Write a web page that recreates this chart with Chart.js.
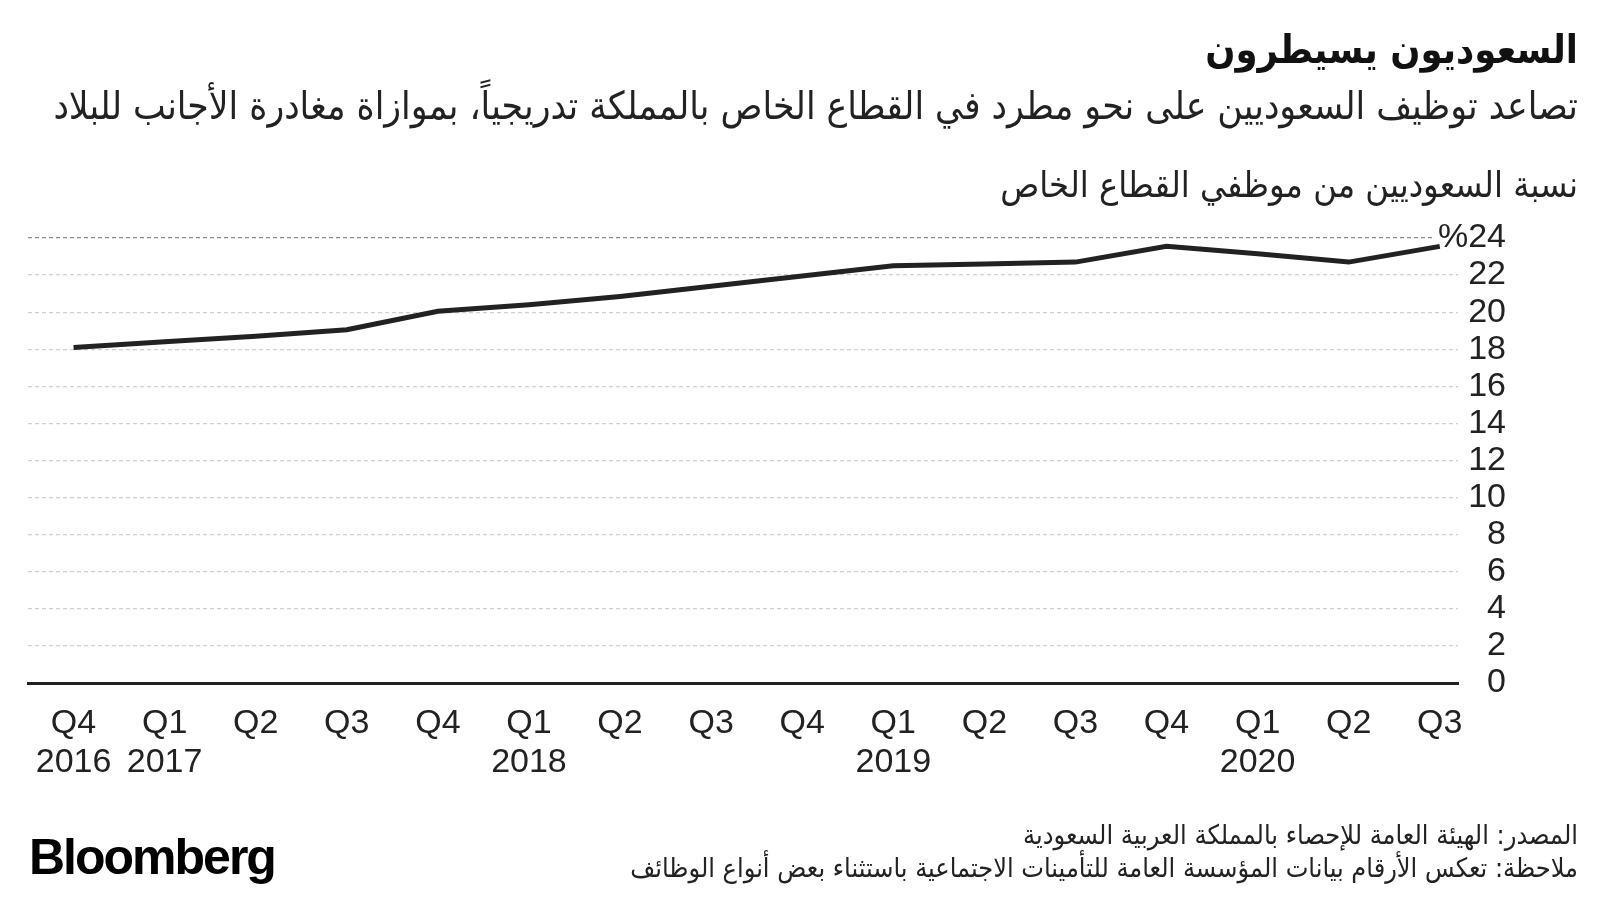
<!DOCTYPE html>
<html lang="ar">

<head>
    <meta charset="UTF-8">
    <title>السعوديون يسيطرون</title>
    <style>
        body { margin: 0; background: #fff; }
        #wrap { position: relative; width: 1600px; height: 900px; overflow: hidden; }
        #chart { position: absolute; left: 0; top: 0; }
        .txt {
            position: absolute; right: 22px; white-space: nowrap; direction: rtl;
            color: #222; line-height: 1;
            font-family: "DejaVu Sans Condensed", "DejaVu Sans", sans-serif;
        }
        #title { font-weight: bold; color: #111; }
        #logo {
            position: absolute; left: 29px; top: 832px; line-height: 1;
            font-family: "Liberation Sans", Arial, sans-serif; font-weight: bold;
            font-size: 50px; letter-spacing: -2px; color: #000;
        }
    </style>
</head>

<body>
    <div id="wrap">
        <canvas id="chart" width="1600" height="900"></canvas>
        <div class="txt" id="title">السعوديون يسيطرون</div>
        <div class="txt" id="subtitle">تصاعد توظيف السعوديين على نحو مطرد في القطاع الخاص بالمملكة تدريجياً، بموازاة مغادرة الأجانب للبلاد</div>
        <div class="txt" id="axisTitle">نسبة السعوديين من موظفي القطاع الخاص</div>
        <div class="txt" id="source">المصدر: الهيئة العامة للإحصاء بالمملكة العربية السعودية</div>
        <div class="txt" id="note">ملاحظة: تعكس الأرقام بيانات المؤسسة العامة للتأمينات الاجتماعية باستثناء بعض أنواع الوظائف</div>
        <div id="logo">Bloomberg</div>
    </div>

    <script src="https://cdn.jsdelivr.net/npm/chart.js@4.4.2/dist/chart.umd.min.js"></script>

    <script>
        // quarters from Q4 2016 to Q3 2020
        var quarterLabels = ['Q4', 'Q1', 'Q2', 'Q3', 'Q4', 'Q1', 'Q2', 'Q3', 'Q4', 'Q1', 'Q2', 'Q3', 'Q4', 'Q1', 'Q2', 'Q3'];
        var yearLabels = ['2016', '2017', '', '', '', '2018', '', '', '', '2019', '', '', '', '2020', '', ''];
        // share of Saudis among private sector employees, %
        var saudiShare = [18.1, 18.4, 18.7, 19.05, 20.05, 20.4, 20.85, 21.4, 21.95, 22.5, 22.6, 22.7, 23.55, 23.15, 22.7, 23.55];
        var yTicks = [0, 2, 4, 6, 8, 10, 12, 14, 16, 18, 20, 22, 24];

        // fit the arabic texts to the widths they take in the picture
        var fitText = function (id, width, baseline) {
            var el = document.getElementById(id);
            el.style.fontSize = '30px';
            var w = el.getBoundingClientRect().width;
            var fs = 30 * width / w;
            el.style.fontSize = fs + 'px';
            el.style.top = (baseline - 0.846 * fs) + 'px';
        }
        fitText('title', 373, 63);
        fitText('subtitle', 1525, 120);
        fitText('axisTitle', 578, 197);
        fitText('source', 555, 845);
        fitText('note', 948, 878);

        var tickFont = { family: '"Liberation Sans", Arial, sans-serif', size: 34 };
        var measure = document.createElement('canvas').getContext('2d');
        measure.font = tickFont.size + 'px ' + tickFont.family;
        var widest = measure.measureText('%24').width;

        // the "%" of the top label sits over the plot, so widen the label clip box leftwards
        var labelRoom = 30;
        var widenLabels = {
            id: 'widenLabels',
            afterLayout: function (chart) {
                chart.scales.y.left -= labelRoom;
            }
        };

        var ctx = document.getElementById('chart');
        new Chart(ctx, {
            type: 'line',
            data: {
                datasets: [{
                    data: saudiShare.map(function (v, i) { return { x: i, y: v }; }),
                    borderColor: '#222',
                    borderWidth: 5,
                    pointRadius: 0,
                    tension: 0,
                    fill: false,
                }]
            },
            plugins: [widenLabels],
            options: {
                responsive: false,
                animation: false,
                devicePixelRatio: 1,
                layout: {
                    padding: { left: 28, top: 238, right: 94, bottom: 100 }
                },
                scales: {
                    x: {
                        type: 'linear',
                        position: 'bottom',
                        min: -0.5,
                        max: 15.2,
                        afterBuildTicks: function (scale) {
                            scale.ticks = quarterLabels.map(function (q, i) { return { value: i }; });
                        },
                        afterFit: function (scale) { scale.height = 117; },
                        grid: { display: false, drawTicks: false },
                        border: { display: true, color: '#222', width: 3 },
                        ticks: {
                            autoSkip: false,
                            maxRotation: 0,
                            padding: 21,
                            color: '#222',
                            font: { family: tickFont.family, size: 34, lineHeight: 1.15 },
                            callback: function (value) {
                                var i = Math.round(value);
                                return yearLabels[i] ? [quarterLabels[i], yearLabels[i]] : quarterLabels[i];
                            }
                        }
                    },
                    y: {
                        position: 'right',
                        min: 0,
                        max: 24,
                        afterBuildTicks: function (scale) {
                            scale.ticks = yTicks.map(function (v) { return { value: v }; });
                        },
                        afterFit: function (scale) { scale.width = 48; },
                        grid: {
                            drawTicks: false,
                            lineWidth: 1.2,
                            borderDash: [4, 3],
                            color: function (c) {
                                var v = c.tick ? c.tick.value : null;
                                if (v === 0) return 'rgba(0,0,0,0)';
                                if (v === 24) return '#8c8c8c';
                                return '#d0d0d0';
                            }
                        },
                        border: { display: false, dash: [4, 3] },
                        ticks: {
                            autoSkip: false,
                            crossAlign: 'far',
                            padding: 48 + labelRoom - widest,
                            color: '#222',
                            showLabelBackdrop: true,
                            backdropColor: '#fff',
                            backdropPadding: { left: 3, right: 0, top: 0, bottom: 0 },
                            font: { family: tickFont.family, size: 34 },
                            callback: function (value) {
                                return value === 24 ? '%24' : String(value);
                            }
                        }
                    }
                },
                plugins: {
                    legend: { display: false },
                    tooltip: { enabled: false },
                },
            }
        });
    </script>
</body>

</html>
